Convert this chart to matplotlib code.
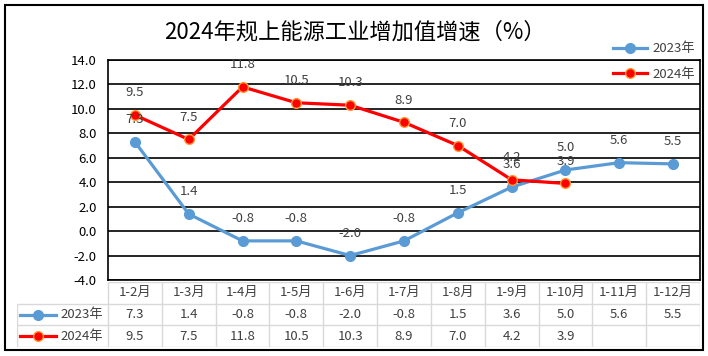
import numpy as np
import matplotlib
matplotlib.use("Agg")
import matplotlib.pyplot as plt
from matplotlib.patches import Rectangle
from matplotlib.lines import Line2D

plt.rcParams['font.family'] = ['Noto Sans CJK SC', 'DejaVu Sans']

# data
months = ['1-2月', '1-3月', '1-4月', '1-5月', '1-6月', '1-7月', '1-8月', '1-9月', '1-10月', '1-11月', '1-12月']
vals_2023 = [7.3, 1.4, -0.8, -0.8, -2.0, -0.8, 1.5, 3.6, 5.0, 5.6, 5.5]
vals_2024 = [9.5, 7.5, 11.8, 10.5, 10.3, 8.9, 7.0, 4.2, 3.9]
series_names = ['2023年', '2024年']
title = '2024年规上能源工业增加值增速（%）'

BLUE = '#5B9BD5'
RED = '#FF0000'
EDGE_RED = '#FF9933'
TXT = '#404040'

W, H = 708, 356
fig = plt.figure(figsize=(W / 100, H / 100), dpi=100)

def fx(px):
    return px / W

def fy(py):
    return 1 - py / H

# outer frame
fig.patches.append(Rectangle((fx(5), fy(350)), fx(703) - fx(5), fy(5) - fy(350),
                             transform=fig.transFigure, fill=False, ec='black', lw=1.5))

fig.text(fx(355), fy(32), title, ha='center', va='center', fontsize=16, color='black')

# main plot
ax = fig.add_axes([fx(108), fy(280), fx(700) - fx(108), fy(60) - fy(280)])
x = np.arange(len(months))
ax.set_xlim(-0.5, len(months) - 0.5)
ax.set_ylim(-4, 14)
ax.set_yticks(np.arange(-4, 14.1, 2))
ax.set_yticklabels([f'{v:.1f}' for v in np.arange(-4, 14.1, 2)])
ax.set_xticks([])
ax.tick_params(axis='y', length=0, pad=8, labelsize=9.5, labelcolor='black')
ax.grid(axis='y', color='black', lw=1.2)
ax.set_axisbelow(True)
for s in ax.spines.values():
    s.set_color('black')
    s.set_linewidth(1.2)

x24 = x[:len(vals_2024)]
ax.plot(x, vals_2023, color=BLUE, lw=2.3, marker='o', ms=7, mfc=BLUE, mec=BLUE, label=series_names[0])
ax.plot(x24, vals_2024, color=RED, lw=2.3, marker='o', ms=7, mfc=RED, mec=EDGE_RED, mew=1, label=series_names[1])

for xi, v in zip(x, vals_2023):
    ax.annotate(f'{v:.1f}', (xi, v), xytext=(0, 16), textcoords='offset points',
                ha='center', va='center', fontsize=9.5, color=TXT)
for xi, v in zip(x24, vals_2024):
    ax.annotate(f'{v:.1f}', (xi, v), xytext=(0, 16), textcoords='offset points',
                ha='center', va='center', fontsize=9.5, color=TXT)

leg = ax.legend(loc='upper right', bbox_to_anchor=(1.0, 1.105), frameon=False,
                fontsize=9.5, handlelength=2.6, labelspacing=0.95, handletextpad=0.4,
                borderaxespad=0)
for t in leg.get_texts():
    t.set_color(TXT)

# data table
cw = (700 - 108) / len(months)
lab_w = (108 - 17) / cw
tax = fig.add_axes([fx(17), fy(347), fx(700) - fx(17), fy(282) - fy(347)])
tax.set_xlim(-0.5 - lab_w, len(months) - 0.5)
tax.set_ylim(3, 0)
tax.axis('off')
GRID = '#D9D9D9'
x0 = -0.5 - lab_w
x1 = len(months) - 0.5
tax.hlines(0, -0.5, x1, color=GRID, lw=1)
tax.hlines([1, 2, 3], x0, x1, color=GRID, lw=1)
tax.vlines(np.arange(len(months) + 1) - 0.5, 0, 3, color=GRID, lw=1)
tax.vlines(x0, 1, 3, color=GRID, lw=1)

for xi, m in enumerate(months):
    tax.text(xi, 0.5, m, ha='center', va='center', fontsize=9.5, color=TXT)
for xi, v in enumerate(vals_2023):
    tax.text(xi, 1.5, f'{v:.1f}', ha='center', va='center', fontsize=9.5, color=TXT)
for xi, v in enumerate(vals_2024):
    tax.text(xi, 2.5, f'{v:.1f}', ha='center', va='center', fontsize=9.5, color=TXT)

for row, (name, c, ec) in enumerate(zip(series_names, [BLUE, RED], [BLUE, EDGE_RED])):
    yy = row + 1.5
    tax.add_line(Line2D([x0 + 0.06, x0 + 0.72], [yy, yy], color=c, lw=2.3))
    tax.plot([x0 + 0.39], [yy], marker='o', ms=7, mfc=c, mec=ec, mew=1)
    tax.text(x0 + 0.8, yy, name, ha='left', va='center', fontsize=9.5, color=TXT)

fig.savefig('out.png', dpi=100)
